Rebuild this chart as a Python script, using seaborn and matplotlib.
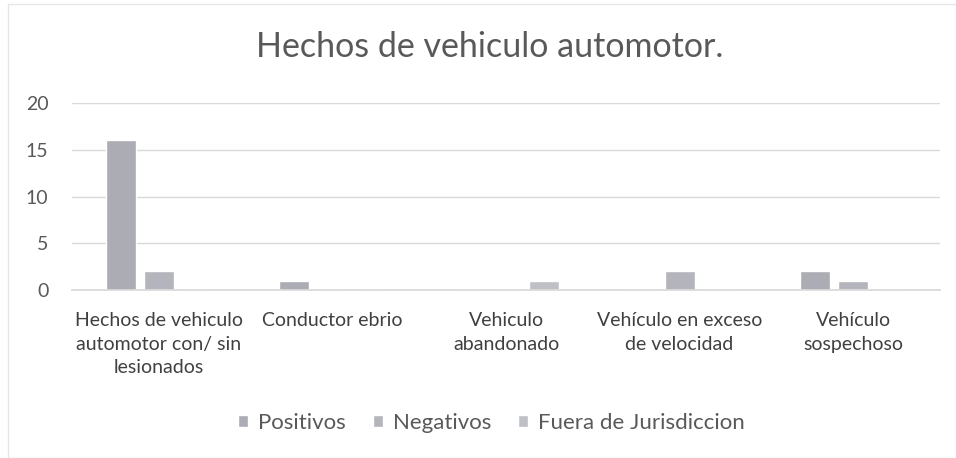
import matplotlib
matplotlib.use("Agg")
import matplotlib.pyplot as plt
import seaborn as sns
import pandas as pd
from matplotlib.patches import Rectangle

categorias = [
    "Hechos de vehiculo\nautomotor con/ sin\nlesionados",
    "Conductor ebrio",
    "Vehiculo\nabandonado",
    "Vehículo en exceso\nde velocidad",
    "Vehículo\nsospechoso",
]
series = ["Positivos", "Negativos", "Fuera de Jurisdiccion"]
positivos = [16, 1, 0, 0, 2]
negativos = [2, 0, 0, 2, 1]
fuera = [0, 0, 1, 0, 0]
yticks = [0, 5, 10, 15, 20]
titulo = "Hechos de vehiculo automotor."

colores = ["#abacb4", "#b4b5bc", "#bfc0c6"]

rows = []
for s, vals in zip(series, [positivos, negativos, fuera]):
    for c, v in zip(categorias, vals):
        rows.append({"cat": c, "val": v, "serie": s})
df = pd.DataFrame(rows)

sns.set_theme(style="white")
plt.rcParams["font.family"] = ["Lato", "DejaVu Sans"]

fig = plt.figure(figsize=(9.56, 4.58), dpi=100)
fig.patch.set_facecolor("white")
ax = fig.add_axes([72/956, 1-290/458, (940-72)/956, (290-103)/458])

sns.barplot(data=df, x="cat", y="val", hue="serie", order=categorias,
            hue_order=series, palette=colores, width=0.66, gap=0.21,
            ax=ax, legend=True, saturation=1)

ax.set_ylim(0, 20)
ax.set_yticks(yticks)
ax.set_xlim(-0.5, 4.5)
ax.yaxis.grid(True, color="#d9d9d9", linewidth=1)
ax.set_axisbelow(True)
for sp in ["top", "right", "left"]:
    ax.spines[sp].set_visible(False)
ax.spines["bottom"].set_color("#d9d9d9")
ax.set_xlabel("")
ax.set_ylabel("")
ax.tick_params(axis="y", length=0, pad=17, labelsize=14, labelcolor="#595959")
ax.tick_params(axis="x", length=0, pad=16, labelsize=14, labelcolor="#404040")
for lab in ax.get_xticklabels():
    lab.set_linespacing(1.45)
    lab.set_verticalalignment("top")

fig.text(0.512, 1-47/458, titulo, ha="center", va="center", fontsize=24.5, color="#595959")

leg = ax.legend(loc="center", bbox_to_anchor=(0.514, 1-423/458), bbox_transform=fig.transFigure,
                ncol=3, frameon=False, fontsize=16, handlelength=0.45, handleheight=0.45,
                handletextpad=0.45, columnspacing=1.2)
for t in leg.get_texts():
    t.set_color("#595959")

fig.patches.append(Rectangle((8/956, 0.0), 1-8/956, 1-4/458, transform=fig.transFigure,
                             fill=False, edgecolor="#e6e6e6", linewidth=1))

fig.savefig("out.png", dpi=100, facecolor="white")
